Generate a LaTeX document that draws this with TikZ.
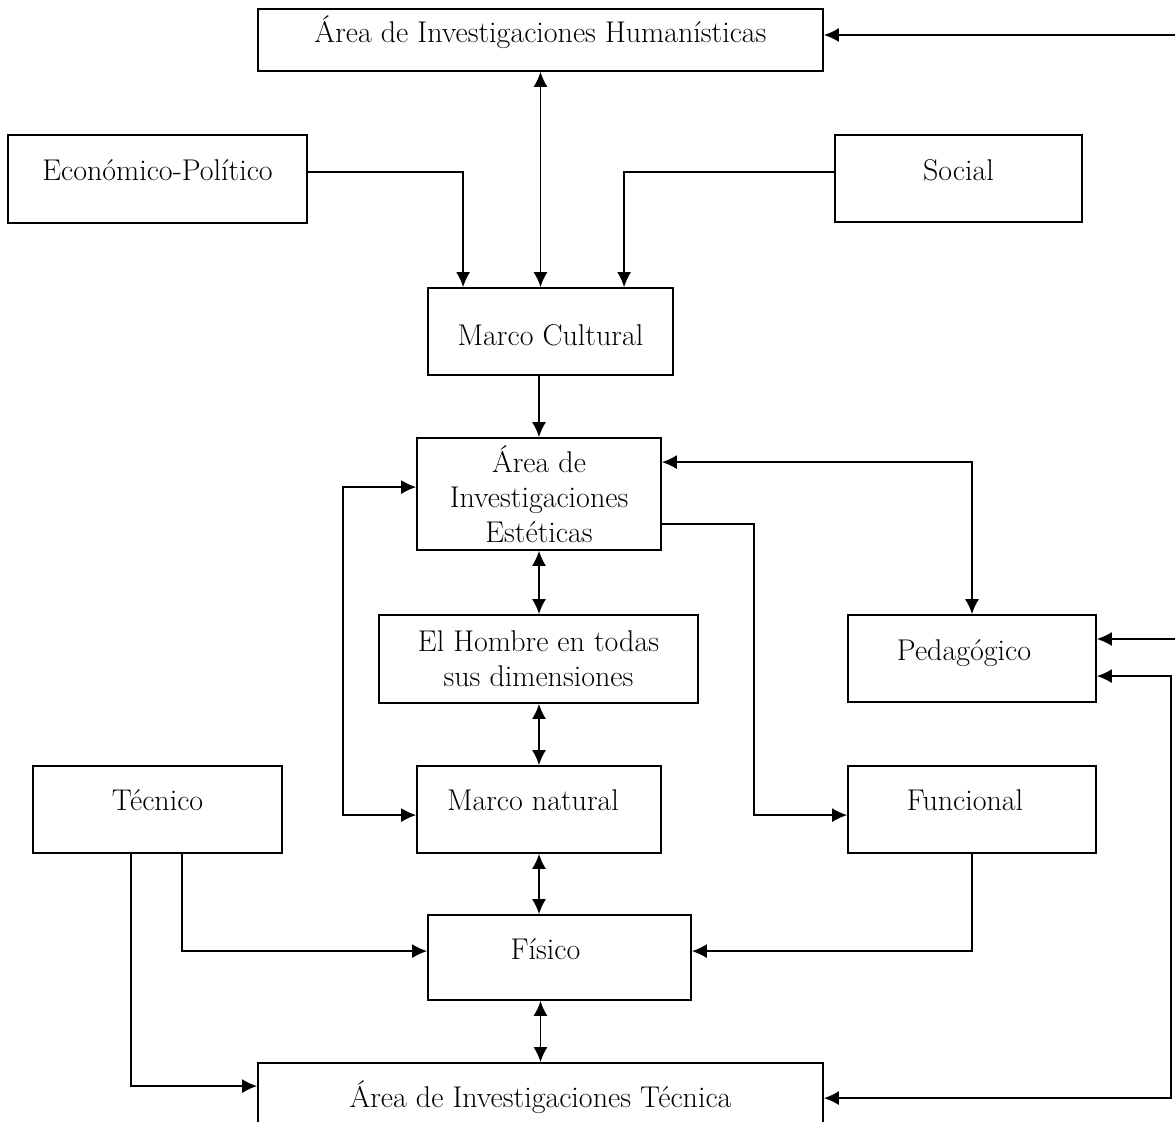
\documentclass[tikz,border=0pt]{standalone}
\usetikzlibrary{arrows.meta,calc}
\begin{document}
\begin{tikzpicture}[x=0.5pt,y=-0.5pt,
  box/.style={draw, line width=0.9pt, inner sep=0pt, align=center,
    font=\fontsize{15}{17.5}\selectfont},
  one/.style={box, text height=11pt, text depth=3pt},
  link/.style={line width=0.75pt, -{Latex[length=7.5pt,width=7pt]}},
  link2/.style={line width=0.75pt, {Latex[length=7.5pt,width=7pt]}-{Latex[length=7.5pt,width=7pt]}}]
\useasboundingbox (0,0) rectangle (1175,1122);
% boxes
\node[one, minimum width=282.5pt, minimum height=31pt] (hum) at (540.5,40) {\raisebox{2.5pt}{Área de Investigaciones Humanísticas}};
\node[one, minimum width=149.5pt, minimum height=44pt] (eco) at (157.5,179) {\raisebox{3pt}{Económico-Político}};
\node[one, minimum width=123.5pt, minimum height=43.5pt] (soc) at (958.5,178.5) {\raisebox{2.75pt}{Social}};
\node[one, minimum width=122.5pt, minimum height=43.5pt] (mc) at (550.5,331.5) {\raisebox{-3.25pt}{Marco Cultural}};
\node[box, minimum width=122pt, minimum height=56pt] (est) at (539,494) {Área de\\Investigaciones\\Estéticas};
\node[box, minimum width=159.5pt, minimum height=44pt] (hom) at (538.5,659) {El Hombre en todas\\sus dimensiones};
\node[one, minimum width=124pt, minimum height=43.5pt] (ped) at (972,658.5) {\raisebox{2.75pt}{\hspace*{-8pt}Pedagógico}};
\node[one, minimum width=124.5pt, minimum height=43.5pt] (tec) at (157.5,809.5) {\raisebox{3.25pt}{Técnico}};
\node[one, minimum width=122pt, minimum height=43.5pt] (mn) at (539,809.5) {\raisebox{3.25pt}{\hspace*{-6pt}Marco natural}};
\node[one, minimum width=124pt, minimum height=43.5pt] (fun) at (972,809.5) {\raisebox{3.25pt}{\hspace*{-7pt}Funcional}};
\node[one, minimum width=131.5pt, minimum height=42.5pt] (fis) at (559.5,957.5) {\raisebox{2.75pt}{\hspace*{-14pt}Físico}};
\node[one, minimum width=282.5pt, minimum height=37pt] (tca) at (540.5,1100) {Área de Investigaciones Técnica};
% free ends at the right margin
\coordinate (hin) at (1175,35);
\coordinate (pin) at (1175,639);
% central column
\draw[link2] (hum.south) -- (hum.south |- mc.north);
\draw[link] ($(eco.north east)+(0,38)$) -| ($(mc.north west)+(36,0)$);
\draw[link] ($(soc.north west)+(0,38)$) -| ($(mc.north west)+(197,0)$);
\draw[link] (hin) -- (hin -| hum.east);
\draw[link] (mc.south -| est.north) -- (est.north);
\draw[link2] (est.south) -- (est.south |- hom.north);
\draw[link2] (hom.south -| mn.north) -- (mn.north);
\draw[link2] (mn.south) -- (mn.south |- fis.north);
\draw[link2] (tca.north |- fis.south) -- (tca.north);
% side loops
\draw[link2] ($(est.north west)+(0,50)$) -| ($(mn.north west)+(-73,50)$) -- ($(mn.north west)+(0,50)$);
\draw[link2] ($(est.north east)+(0,25)$) -| (ped.north);
\draw[link] ($(est.north east)+(0,87)$) -| ($(fun.north west)+(-93,50)$) -- ($(fun.north west)+(0,50)$);
\draw[link] (fun.south) |- ($(fis.north east)+(0,37)$);
\draw[link] ($(tec.south west)+(150,0)$) |- ($(fis.north west)+(0,37)$);
\draw[link] ($(tec.south west)+(99,0)$) |- ($(tca.north west)+(0,24)$);
\draw[link] (pin) -- (pin -| ped.east);
\draw[link2] ($(tca.north east)+(0,36)$) -| ($(ped.north east)+(74,62)$) -- ($(ped.north east)+(0,62)$);
\end{tikzpicture}
\end{document}
